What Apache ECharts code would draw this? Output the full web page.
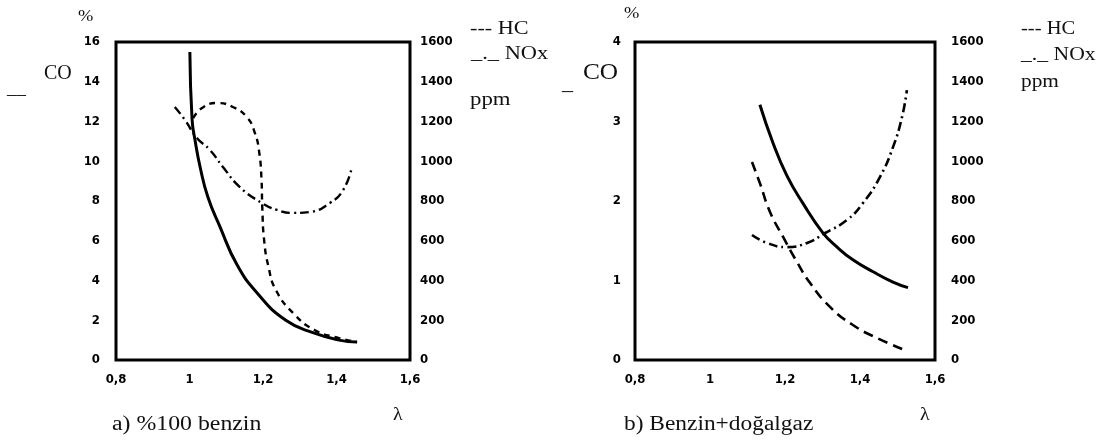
<!DOCTYPE html>
<html>
<head>
<meta charset="utf-8">
<script src="https://cdn.jsdelivr.net/npm/echarts@6/dist/echarts.min.js"></script>
<style>
  html, body { margin: 0; padding: 0; background: #fff; }
  #chart { width: 1103px; height: 442px; }
</style>
</head>
<body>
<div id="chart"></div>
<script>
// x tick labels (lambda), comma decimals as in the original
const lambdaTicks = ['0,8', '1', '1,2', '1,4', '1,6'];

// a) %100 benzin  (CO in %, HC and NOx in ppm)
const aCoLambda = [1.001, 1.007, 1.015, 1.029, 1.05, 1.083, 1.129, 1.184, 1.262, 1.34, 1.407, 1.456];
const aCo       = [15.5, 12.1, 11.07, 9.7, 8.2, 6.7, 4.8, 3.37, 2.0, 1.35, 1.0, 0.9];
const aHcLambda = [1.01, 1.034, 1.075, 1.118, 1.156, 1.178, 1.19, 1.196, 1.198, 1.203, 1.215, 1.235, 1.282, 1.34, 1.407, 1.456];
const aHc       = [1217, 1268, 1293, 1273, 1222, 1142, 1041, 905, 770, 604, 468, 352, 236, 151, 110, 90];
const aNoxLambda = [0.96, 0.988, 1.02, 1.056, 1.091, 1.137, 1.197, 1.238, 1.282, 1.328, 1.382, 1.418, 1.442];
const aNox       = [1273, 1207, 1117, 1056, 971, 870, 790, 755, 740, 745, 790, 855, 971];

// b) Benzin+dogalgaz
const bCoLambda = [1.133, 1.168, 1.205, 1.248, 1.301, 1.339, 1.381, 1.435, 1.488, 1.528];
const bCo       = [3.21, 2.73, 2.32, 1.97, 1.60, 1.42, 1.26, 1.11, 0.98, 0.91];
const bHcLambda = [1.112, 1.133, 1.16, 1.195, 1.232, 1.267, 1.32, 1.381, 1.445, 1.52];
const bHc       = [996, 890, 745, 619, 493, 387, 267, 176, 111, 50];
const bNoxLambda = [1.112, 1.152, 1.205, 1.259, 1.307, 1.365, 1.408, 1.453, 1.488, 1.512, 1.525];
const bNox       = [629, 589, 568, 589, 639, 704, 790, 920, 1071, 1222, 1358];

const pair = (xs, ys) => xs.map((x, i) => [x, ys[i]]);

const tickFont = {
  color: '#000',
  fontFamily: '"Liberation Sans Narrow", "DejaVu Sans Condensed", "DejaVu Sans", sans-serif',
  fontWeight: 'bold',
  fontSize: 13,
};
const serif = '"Liberation Serif", "DejaVu Serif", serif';

const xAxisFor = (gridIndex) => ({
  type: 'value',
  gridIndex,
  min: 0.8,
  max: 1.6,
  interval: 0.2,
  axisLine: { show: false },
  axisTick: { show: false },
  splitLine: { show: false },
  axisLabel: Object.assign({}, tickFont, {
    margin: 13,
    formatter: (v) => lambdaTicks[Math.round((v - 0.8) / 0.2)],
  }),
});

const yAxisFor = (gridIndex, max, interval, position, margin) => ({
  type: 'value',
  gridIndex,
  position,
  min: 0,
  max,
  interval,
  axisLine: { show: false },
  axisTick: { show: false },
  splitLine: { show: false },
  axisLabel: Object.assign({}, tickFont, { margin, formatter: (v) => String(v) }),
});

const lineSeries = (xAxisIndex, yAxisIndex, data, type, width) => ({
  type: 'line',
  xAxisIndex,
  yAxisIndex,
  data,
  smooth: 0.5,
  showSymbol: false,
  silent: true,
  lineStyle: { color: '#000', width, type },
});

const solid = 'solid';
const dashedA = [6, 5];
const dashedB = [10, 6];
const dashDot = [9, 4, 2, 4];

// text helper, sx stretches the glyphs horizontally like the scanned original
const txt = (x, y, text, size, sx) => ({
  type: 'text',
  x, y,
  scaleX: sx || 1,
  style: { text, fill: '#111', font: size + 'px ' + serif },
});

const chart = echarts.init(document.getElementById('chart'));
chart.setOption({
  animation: false,
  grid: [
    { left: 116, top: 42, width: 294, height: 318, show: true, borderColor: '#000', borderWidth: 3 },
    { left: 635, top: 42, width: 300, height: 318, show: true, borderColor: '#000', borderWidth: 3 },
  ],
  xAxis: [xAxisFor(0), xAxisFor(1)],
  yAxis: [
    yAxisFor(0, 16, 2, 'left', 16),
    yAxisFor(0, 1600, 200, 'right', 10),
    yAxisFor(1, 4, 1, 'left', 14),
    yAxisFor(1, 1600, 200, 'right', 16),
  ],
  series: [
    lineSeries(0, 0, pair(aCoLambda, aCo), solid, 3),
    lineSeries(0, 1, pair(aHcLambda, aHc), dashedA, 2.4),
    lineSeries(0, 1, pair(aNoxLambda, aNox), dashDot, 2.4),
    lineSeries(1, 2, pair(bCoLambda, bCo), solid, 3),
    lineSeries(1, 3, pair(bHcLambda, bHc), dashedB, 2.6),
    lineSeries(1, 3, pair(bNoxLambda, bNox), dashDot, 2.6),
  ],
  graphic: [
    // panel a labels
    txt(78, 9, '%', 16, 1.15),
    txt(7, 80, '__', 18, 1.05),
    txt(44, 64, 'CO', 20, 1.0),
    txt(470, 20, '--- HC', 19, 1.17),
    txt(471, 45, '_._ NOx', 19, 1.18),
    txt(470, 91, 'ppm', 19, 1.2),
    txt(393, 406, 'λ', 18, 1.1),
    txt(112, 415, 'a) %100 benzin', 20, 1.19),
    // panel b labels
    txt(624, 6, '%', 16, 1.15),
    txt(562, 72, '_', 22, 1.0),
    txt(583, 61, 'CO', 23, 1.1),
    txt(1021, 20, '--- HC', 19, 1.08),
    txt(1021, 46, '_._ NOx', 19, 1.14),
    txt(1021, 73, 'ppm', 19, 1.12),
    txt(920, 406, 'λ', 18, 1.1),
    txt(624, 415, 'b) Benzin+doğalgaz', 20, 1.17),
  ],
});
</script>
</body>
</html>
